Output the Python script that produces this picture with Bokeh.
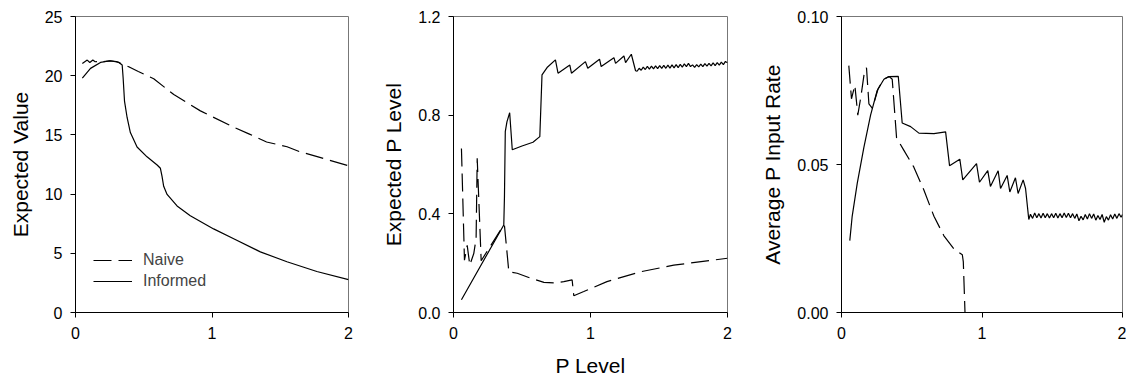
from bokeh.plotting import figure
from bokeh.layouts import row
from bokeh.models import Range1d, FixedTicker, PrintfTickFormatter, Legend, LegendItem
from bokeh.embed import file_html
from bokeh.resources import INLINE

# ---------------- data ----------------
x_ticks = [0, 1, 2]

# Panel 1: Expected Value
naive1_x = [0.05, 0.086, 0.105, 0.127, 0.144, 0.164, 0.178, 0.20, 0.25, 0.30, 0.34, 0.39, 0.46,
            0.573, 0.72, 0.915, 1.16, 1.27, 1.40, 1.55, 1.646, 1.79, 2.0]
naive1_y = [21.04, 21.32, 21.12, 21.32, 21.18, 21.2, 21.1, 21.18, 21.26, 21.2, 21.0, 20.76, 20.35,
            19.74, 18.41, 17.03, 15.64, 15.09, 14.4, 14.0, 13.57, 13.1, 12.4]
informed1_x = [0.05, 0.11, 0.183, 0.256, 0.318, 0.342, 0.349, 0.359, 0.378, 0.402, 0.451, 0.524,
               0.598, 0.622, 0.634, 0.646, 0.671, 0.744, 0.841, 1.012, 1.159, 1.354, 1.549, 1.768, 2.0]
informed1_y = [19.79, 20.62, 21.12, 21.26, 21.12, 20.9, 19.8, 17.86, 16.47, 15.2, 13.98, 13.15,
               12.46, 12.18, 11.49, 10.66, 9.97, 9.0, 8.17, 7.06, 6.23, 5.12, 4.29, 3.46, 2.77]

# Panel 2: Expected P Level
naive2_x = [0.058, 0.08, 0.1, 0.119, 0.148, 0.165, 0.173, 0.202, 0.367, 0.372, 0.404, 0.465, 0.56,
            0.66, 0.745, 0.805, 0.866, 0.878, 0.951, 1.12, 1.365, 1.608, 2.0]
naive2_y = [0.665, 0.212, 0.272, 0.192, 0.239, 0.3, 0.625, 0.21, 0.355, 0.352, 0.165, 0.159, 0.14,
            0.122, 0.12, 0.125, 0.132, 0.068, 0.085, 0.125, 0.165, 0.192, 0.22]
informed2_x = [0.058, 0.367, 0.372, 0.378, 0.39, 0.41, 0.429, 0.50, 0.58, 0.63, 0.646, 0.683, 0.744,
               0.763, 0.849, 0.861, 0.963, 0.98, 1.066, 1.078, 1.171, 1.183, 1.244, 1.256, 1.298, 1.329,
               1.340, 1.355, 1.370, 1.385, 1.400, 1.415, 1.430, 1.445, 1.460, 1.475, 1.490, 1.505,
               1.520, 1.535, 1.550, 1.565, 1.580, 1.595, 1.610, 1.625, 1.640, 1.655, 1.670, 1.685,
               1.700, 1.715, 1.730, 1.745, 1.760, 1.775, 1.790, 1.805, 1.820, 1.835, 1.850, 1.865,
               1.880, 1.895, 1.910, 1.925, 1.940, 1.955, 1.970, 1.985, 2.000]
informed2_y = [0.052, 0.355, 0.47, 0.733, 0.773, 0.81, 0.66, 0.675, 0.69, 0.713, 0.963, 0.993, 1.024,
               0.97, 1.003, 0.97, 1.017, 0.99, 1.027, 0.997, 1.033, 1.01, 1.04, 1.013, 1.047, 0.98,
               0.978, 0.990, 0.982, 0.995, 0.985, 0.998, 0.987, 0.999, 0.988, 1.000, 0.989, 1.001,
               0.990, 1.002, 0.990, 1.003, 0.991, 1.004, 0.992, 1.005, 0.993, 1.006, 0.995, 1.008,
               0.997, 1.010, 0.997, 1.004, 0.994, 1.005, 0.996, 1.007, 0.997, 1.009, 0.999, 1.010,
               1.000, 1.012, 1.001, 1.013, 1.003, 1.015, 1.005, 1.018, 1.012]

# Panel 3: Average P Input Rate
naive3_x = [0.052, 0.071, 0.095, 0.116, 0.14, 0.164, 0.178, 0.195, 0.22, 0.26, 0.30, 0.34, 0.361,
            0.392, 0.44, 0.515, 0.587, 0.658, 0.729, 0.8, 0.86, 0.867, 0.879]
naive3_y = [0.0834, 0.0722, 0.0768, 0.0667, 0.0735, 0.0816, 0.0827, 0.0705, 0.069, 0.0755, 0.0788,
            0.0797, 0.0788, 0.059, 0.0551, 0.0491, 0.0413, 0.0325, 0.0259, 0.0215, 0.0195, 0.0171, 0.0]
informed3_x = [0.059, 0.076, 0.112, 0.159, 0.207, 0.254, 0.302, 0.337, 0.404, 0.432, 0.492, 0.551,
               0.658, 0.741, 0.769, 0.842, 0.863, 0.961, 0.982, 1.041, 1.06, 1.115, 1.132, 1.179,
               1.198, 1.238, 1.257, 1.293, 1.31, 1.333,
               1.345, 1.360, 1.375, 1.390, 1.405, 1.420, 1.435, 1.450, 1.465, 1.480, 1.495, 1.510,
               1.525, 1.540, 1.555, 1.570, 1.585, 1.600, 1.615, 1.630, 1.645, 1.660, 1.675, 1.690,
               1.705, 1.720, 1.735, 1.750, 1.765, 1.780, 1.795, 1.810, 1.825, 1.840, 1.855, 1.870,
               1.885, 1.900, 1.915, 1.930, 1.945, 1.960, 1.975, 1.990, 2.000]
informed3_y = [0.0243, 0.0325, 0.0436, 0.0557, 0.0667, 0.075, 0.0788, 0.0797, 0.0798, 0.064, 0.0628,
               0.0606, 0.0604, 0.061, 0.0496, 0.0518, 0.0448, 0.0503, 0.044, 0.0479, 0.0426, 0.0479,
               0.0419, 0.0463, 0.0407, 0.0455, 0.0402, 0.0448, 0.0419, 0.0314,
               0.0332, 0.0318, 0.0336, 0.0320, 0.0334, 0.0319, 0.0335, 0.0320, 0.0334, 0.0319,
               0.0334, 0.0320, 0.0335, 0.0319, 0.0334, 0.0320, 0.0336, 0.0321, 0.0335, 0.0320,
               0.0334, 0.0318, 0.0333, 0.0310, 0.0325, 0.0313, 0.0331, 0.0316, 0.0334, 0.0318,
               0.0333, 0.0312, 0.0328, 0.0314, 0.0331, 0.0305, 0.0324, 0.0312, 0.0330, 0.0316,
               0.0333, 0.0318, 0.0334, 0.0322, 0.0331]

FONT = "Liberation Sans"
DASH = "18 7"


def make_panel(width, left, right, top, bottom, y_end, y_ticks, y_fmt, y_label, x_label=None):
    p = figure(width=width, height=379, output_backend="svg", toolbar_location=None,
               x_range=Range1d(0, 2), y_range=Range1d(0, y_end),
               min_border_left=left, min_border_right=right,
               min_border_top=top, min_border_bottom=bottom)
    p.grid.visible = False
    p.outline_line_color = "#777777"
    p.outline_line_width = 1
    p.background_fill_color = "white"
    p.border_fill_color = "white"
    for ax in (p.xaxis[0], p.yaxis[0]):
        ax.axis_line_color = "black"
        ax.axis_line_width = 1
        ax.major_tick_out = 5
        ax.major_tick_in = 0
        ax.minor_tick_line_color = None
        ax.major_tick_line_color = "black"
        ax.major_label_text_font = FONT
        ax.major_label_text_font_size = "16px"
        ax.major_label_text_color = "black"
        ax.axis_label_text_font = FONT
        ax.axis_label_text_font_size = "21px"
        ax.axis_label_text_font_style = "normal"
        ax.axis_label_text_color = "black"
    p.xaxis.ticker = FixedTicker(ticks=x_ticks)
    p.xaxis.major_label_standoff = 9
    p.yaxis.ticker = FixedTicker(ticks=y_ticks)
    p.yaxis.formatter = PrintfTickFormatter(format=y_fmt)
    p.yaxis.major_label_standoff = 8
    p.yaxis.axis_label = y_label
    p.yaxis.axis_label_standoff = 10
    if x_label:
        p.xaxis.axis_label = x_label
        p.xaxis.axis_label_standoff = 12
    return p


p1 = make_panel(375, 75, 27, 14, 64, 25, [0, 5, 10, 15, 20, 25], "%d", "Expected Value")
r_naive = p1.line(naive1_x, naive1_y, line_color="black", line_width=1.2, line_dash=DASH)
r_inf = p1.line(informed1_x, informed1_y, line_color="black", line_width=1.2)
legend = Legend(items=[LegendItem(label="Naive", renderers=[r_naive]),
                       LegendItem(label="Informed", renderers=[r_inf])],
                location=(18, 22), padding=0, margin=0, spacing=3,
                glyph_width=39, glyph_height=18, label_height=18, label_standoff=11,
                label_text_font=FONT, label_text_font_size="16px",
                border_line_color=None, background_fill_alpha=0)
p1.add_layout(legend)

p2 = make_panel(380, 78, 28, 13, 66, 1.2, [0, 0.4, 0.8, 1.2], "%.1f", "Expected P Level", "P Level")
p2.line(naive2_x, naive2_y, line_color="black", line_width=1.2, line_dash=DASH)
p2.line(informed2_x, informed2_y, line_color="black", line_width=1.2)

p3 = make_panel(371, 86, 4, 16, 61, 0.10, [0, 0.05, 0.10], "%.2f", "Average P Input Rate")
p3.line(naive3_x, naive3_y, line_color="black", line_width=1.2, line_dash=DASH)
p3.line(informed3_x, informed3_y, line_color="black", line_width=1.2)

layout = row(p1, p2, p3)
open("out.html", "w").write(file_html(layout, INLINE))
